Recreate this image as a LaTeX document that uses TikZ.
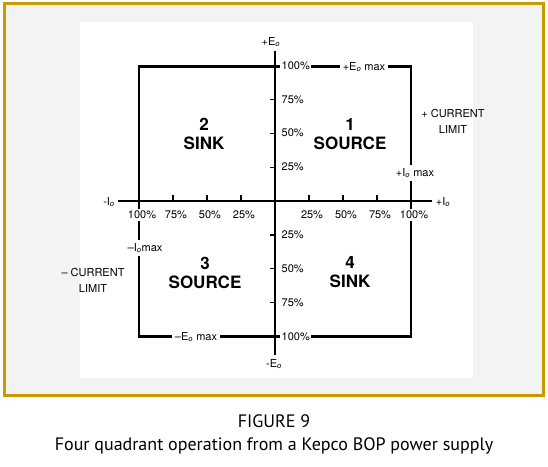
\documentclass[tikz,border=0pt]{standalone}
\usepackage{fontspec}
\setmainfont{TeX Gyre Heros}
\newfontfamily\capfont{PT Sans}
\usepackage{tikz}
\usetikzlibrary{positioning}

\definecolor{kgold}{RGB}{200,155,0}
\definecolor{kdots}{RGB}{243,243,243}
\newcommand{\Eo}{E\textsubscript{\textit{o}}}
\newcommand{\Io}{I\textsubscript{\textit{o}}}

\begin{document}
\begin{tikzpicture}[x=1pt,y=-1pt,
    axis/.style={line width=2.6pt},
    limit/.style={line width=2.2pt},
    tickmark/.style={line width=1.2pt},
    pct/.style={font=\fontsize{11}{12}\selectfont, fill=white, inner sep=1.5pt},
    lbl/.style={font=\fontsize{11}{16}\selectfont, fill=white, inner sep=3pt, align=center},
    quad/.style={font=\fontsize{17}{19}\selectfont\bfseries, align=center}]
    \useasboundingbox (0,0) rectangle (548,466);

    % frame and paper
    \fill[kdots] (4.5,3.5) rectangle (543.5,395.5);
    \fill[white] (80,22) rectangle (473,378);
    \draw[kgold, line width=3pt] (4.5,3.5) rectangle (543.5,395.5);

    % limit box
    \coordinate (TL) at (139,66.5);
    \coordinate (BR) at (411,336.5);
    \draw[limit] (TL) rectangle (BR);

    % axes
    \node[font=\fontsize{11}{12}\selectfont] (Eup) at (271,42) {+\Eo};
    \node[font=\fontsize{11}{12}\selectfont] (Edn) at (274,364) {-\Eo};
    \node[font=\fontsize{11}{12}\selectfont] (Ilf) at (109,202) {-\Io};
    \node[font=\fontsize{11}{12}\selectfont] (Irt) at (443,202) {+\Io};
    \coordinate (Vt) at (275,51);
    \coordinate (Vb) at (275,355);
    \coordinate (Hl) at (118,201);
    \coordinate (Hr) at (432,201);
    \draw[axis] (Vt) -- (Vb);
    \draw[axis] (Hl) -- (Hr);

    % ticks
    \foreach \k in {1,2,3} {
      \draw[tickmark] (275-34*\k,195) -- (275-34*\k,201);
      \draw[tickmark] (275+34*\k,195) -- (275+34*\k,201);
      \draw[tickmark] (270,201-33.9*\k) -- (275,201-33.9*\k);
      \draw[tickmark] (270,201+33.9*\k) -- (275,201+33.9*\k);
    }
    \draw[tickmark] (270,66.5) -- (280,66.5);
    \draw[tickmark] (270,336.5) -- (280,336.5);

    % percent labels
    \foreach \k/\p in {1/25,2/50,3/75,4/100} {
      \node[pct] (xl\k) at (278-34*\k,215) {\p\%};
      \node[pct] (xr\k) at (278+34*\k,215) {\p\%};
      \node[pct, anchor=west] (yu\k) at (280,201-33.9*\k) {\p\%};
      \node[pct, anchor=west] (yd\k) at (280,201+33.9*\k) {\p\%};
    }

    % limit labels
    \node[lbl] (Eplus) at (364,67) {+\Eo\ max};
    \node[lbl] (Eminus) at (196,337) {--\Eo\ max};
    \node[lbl] (Iplus) at (415,173) {+\Io\ max};
    \node[lbl] (Iminus) at (145,248) {--\Io max};
    \node[lbl, fill=none] (Cplus) at (453,121) {+ CURRENT\\LIMIT};
    \node[lbl, fill=none] (Cminus) at (93,280) {-- CURRENT\\LIMIT};

    % quadrants
    \node[quad] (Q1) at (350,134) {1\\SOURCE};
    \node[quad] (Q2) at (204,134) {2\\SINK};
    \node[quad] (Q3) at (205,272.5) {3\\SOURCE};
    \node[quad] (Q4) at (350,272.5) {4\\SINK};

    % caption
    \node[anchor=base, font=\capfont\fontsize{18}{20}\selectfont] (fig) at (274,427) {FIGURE 9};
    \node[anchor=base, font=\capfont\fontsize{18}{20}\selectfont] (cap) at (274,450) {Four quadrant operation from a Kepco BOP power supply};
\end{tikzpicture}
\end{document}
